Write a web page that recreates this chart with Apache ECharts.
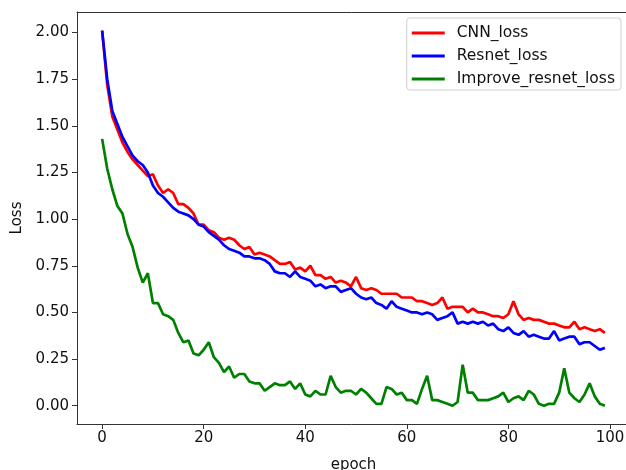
<!DOCTYPE html>
<html>
<head>
<meta charset="utf-8">
<script src="https://cdn.jsdelivr.net/npm/echarts@6/dist/echarts.min.js"></script>
<style>
  html, body { margin: 0; padding: 0; background: #fff; }
  #chart { width: 626px; height: 470px; }
</style>
</head>
<body>
<div id="chart"></div>
<script>
// loss curves, one value per epoch (0..99)
var cnnLoss = [2.01,1.72,1.55,1.48,1.41,1.36,1.32,1.29,1.26,1.23,1.24,1.18,1.14,1.16,1.14,1.08,1.08,1.06,1.03,0.97,
  0.97,0.94,0.93,0.90,0.89,0.90,0.89,0.86,0.84,0.85,0.81,0.82,0.81,0.80,0.78,0.76,0.76,0.77,0.73,0.74,
  0.72,0.75,0.70,0.70,0.68,0.69,0.66,0.67,0.66,0.64,0.69,0.63,0.62,0.63,0.62,0.60,0.60,0.60,0.60,0.58,
  0.58,0.58,0.56,0.56,0.55,0.54,0.55,0.58,0.52,0.53,0.53,0.53,0.50,0.52,0.50,0.50,0.49,0.48,0.48,0.47,
  0.49,0.56,0.49,0.46,0.47,0.46,0.46,0.45,0.44,0.44,0.43,0.42,0.42,0.45,0.41,0.42,0.41,0.40,0.41,0.39];
var resnetLoss = [2.01,1.75,1.58,1.51,1.44,1.39,1.34,1.31,1.29,1.25,1.18,1.14,1.12,1.09,1.06,1.04,1.03,1.02,1.00,0.97,
  0.96,0.93,0.91,0.89,0.86,0.84,0.83,0.82,0.80,0.80,0.79,0.79,0.78,0.76,0.72,0.71,0.71,0.69,0.72,0.69,
  0.68,0.67,0.64,0.65,0.63,0.64,0.64,0.61,0.62,0.63,0.60,0.58,0.57,0.58,0.55,0.54,0.52,0.56,0.53,0.52,
  0.51,0.50,0.50,0.49,0.50,0.49,0.46,0.47,0.48,0.50,0.44,0.45,0.44,0.45,0.44,0.45,0.43,0.44,0.41,0.40,
  0.42,0.39,0.38,0.40,0.37,0.38,0.37,0.36,0.36,0.40,0.35,0.36,0.37,0.37,0.33,0.34,0.34,0.32,0.30,0.31];
var improveLoss = [1.43,1.27,1.16,1.07,1.03,0.92,0.85,0.74,0.66,0.71,0.55,0.55,0.49,0.48,0.46,0.39,0.34,0.35,0.28,0.27,
  0.30,0.34,0.26,0.23,0.18,0.21,0.15,0.17,0.17,0.13,0.12,0.12,0.08,0.10,0.12,0.11,0.11,0.13,0.09,0.12,
  0.06,0.05,0.08,0.06,0.06,0.16,0.10,0.07,0.08,0.08,0.06,0.09,0.07,0.04,0.01,0.01,0.10,0.09,0.06,0.07,
  0.03,0.03,0.01,0.09,0.16,0.03,0.03,0.02,0.01,0.00,0.02,0.22,0.07,0.07,0.03,0.03,0.03,0.04,0.05,0.07,
  0.02,0.04,0.05,0.03,0.08,0.06,0.01,0.00,0.01,0.01,0.07,0.20,0.07,0.04,0.02,0.06,0.12,0.05,0.01,0.00];
var xTicks = [0, 20, 40, 60, 80, 100];
var yTicks = [0, 0.25, 0.5, 0.75, 1.0, 1.25, 1.5, 1.75, 2.0];

function pairs(arr) {
  return arr.map(function (v, i) { return [i, v]; });
}

var font = 'DejaVu Sans';
var chart = echarts.init(document.getElementById('chart'), null, { renderer: 'canvas' });

function line(name, data, color) {
  return {
    name: name,
    type: 'line',
    data: pairs(data),
    showSymbol: false,
    symbol: 'none',
    lineStyle: { color: color, width: 2.7 },
    itemStyle: { color: color },
    animation: false
  };
}

chart.setOption({
  backgroundColor: '#fff',
  animation: false,
  textStyle: { fontFamily: font },
  grid: { left: 77, right: -4, top: 12, bottom: 46, outerBoundsMode: 'none', containLabel: false },
  legend: {
    orient: 'vertical',
    right: 5, top: 18,
    padding: [7, 6, 3, 5],
    itemWidth: 33, itemHeight: 3, itemGap: 7,
    icon: 'rect',
    borderColor: '#d0d0d0', borderWidth: 1, borderRadius: 3,
    backgroundColor: '#fff',
    textStyle: { fontFamily: font, fontSize: 15.5, lineHeight: 16, color: '#111', padding: [0, 0, 0, 7] },
    data: ['CNN_loss', 'Resnet_loss', 'Improve_resnet_loss']
  },
  xAxis: [{
    type: 'value',
    min: -4.95, max: 103.95,
    name: 'epoch', nameLocation: 'middle', nameGap: 34,
    nameTextStyle: { fontFamily: font, fontSize: 15, color: '#111' },
    axisLine: { show: true, onZero: false, lineStyle: { color: '#333', width: 1 } },
    axisTick: { show: true, length: 5, lineStyle: { color: '#333' }, customValues: xTicks },
    axisLabel: { customValues: xTicks, fontFamily: font, fontSize: 15, color: '#111', margin: 7 },
    splitLine: { show: false }
  }, {
    // top frame line only
    type: 'value', position: 'top',
    min: -4.95, max: 103.95,
    axisLine: { show: true, onZero: false, lineStyle: { color: '#333', width: 1 } },
    axisTick: { show: false }, axisLabel: { show: false }, splitLine: { show: false }
  }],
  yAxis: {
    type: 'value',
    min: -0.098, max: 2.11,
    name: 'Loss', nameLocation: 'middle', nameGap: 51, nameRotate: 90,
    nameTextStyle: { fontFamily: font, fontSize: 15, color: '#111' },
    axisLine: { show: true, onZero: false, lineStyle: { color: '#333', width: 1 } },
    axisTick: { show: true, length: 5, lineStyle: { color: '#333' }, customValues: yTicks },
    axisLabel: {
      customValues: yTicks, fontFamily: font, fontSize: 15, color: '#111', margin: 8,
      formatter: function (v) { return v.toFixed(2); }
    },
    splitLine: { show: false }
  },
  series: [
    line('CNN_loss', cnnLoss, '#ff0000'),
    line('Resnet_loss', resnetLoss, '#0000ff'),
    line('Improve_resnet_loss', improveLoss, '#008000')
  ]
});
</script>
</body>
</html>
